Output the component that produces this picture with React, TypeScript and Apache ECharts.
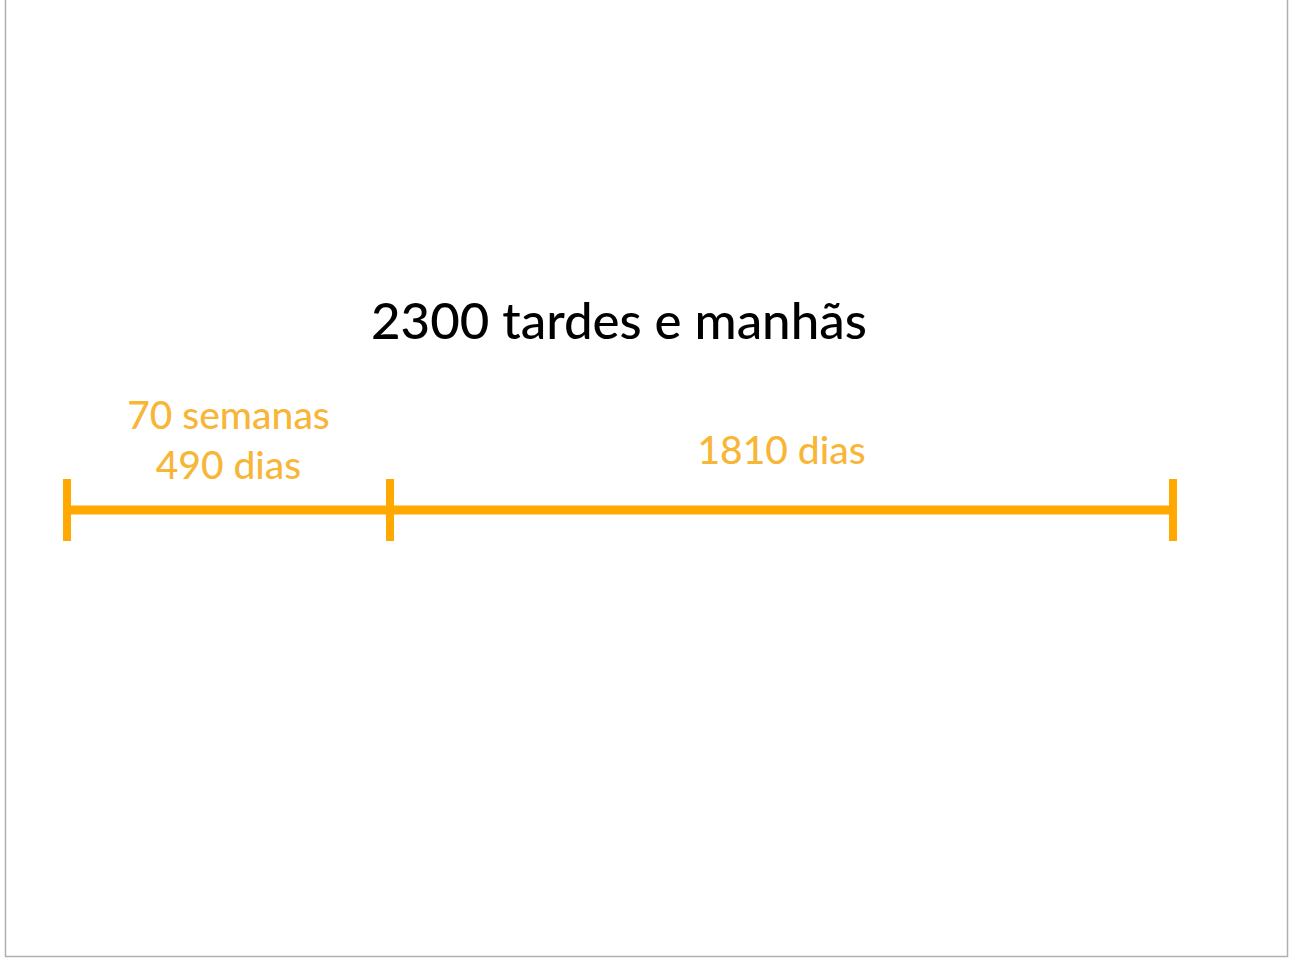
import React, { useEffect, useRef } from "react";
import * as echarts from "echarts";

const titleText = "2300 tardes e manhãs";
const segmentDays = [490, 1810];
const segmentLabels = ["70 semanas\n490 dias", "1810 dias"];
const labelDistances = [21, 36];

const ORANGE = "#FFA800";
const TEXT_ORANGE = "#F7A200";
const FONT = "Lato, 'Open Sans', sans-serif";

// pixel layout of each segment's own grid (left, right edge)
const gridSpans = [
  [67, 390],
  [390, 1173],
];

export default function App() {
  const ref = useRef<HTMLDivElement>(null);
  useEffect(() => {
    if (!ref.current) return;
    const chart = echarts.init(ref.current, undefined, { renderer: "svg" });
    const grids = gridSpans.map(([l, r]) => ({
      left: l,
      right: 1299 - r,
      top: 480,
      height: 60,
    }));
    const xAxes = segmentDays.map((d, i) => ({
      type: "value",
      gridIndex: i,
      min: 0,
      max: d,
      show: false,
    }));
    const yAxes = segmentDays.map((_, i) => ({
      type: "value",
      gridIndex: i,
      min: -1,
      max: 1,
      show: false,
    }));
    const series: any[] = [];
    segmentDays.forEach((d, i) => {
      series.push({
        type: "line",
        xAxisIndex: i,
        yAxisIndex: i,
        data: [
          [0, 0],
          [d, 0],
        ],
        lineStyle: { color: ORANGE, width: 9 },
        itemStyle: { color: ORANGE },
        symbol: "rect",
        symbolSize: [8, 62],
        silent: true,
        z: 2,
      });
      series.push({
        type: "scatter",
        xAxisIndex: i,
        yAxisIndex: i,
        data: [[d / 2, 0]],
        symbolSize: 0,
        silent: true,
        label: {
          show: true,
          position: "top",
          distance: labelDistances[i],
          formatter: segmentLabels[i],
          color: TEXT_ORANGE,
          fontFamily: FONT,
          fontSize: 39,
          fontWeight: 500,
          lineHeight: 50,
          align: "center",
        },
      });
    });
    chart.setOption({
      animation: false,
      backgroundColor: "#ffffff",
      title: {
        text: titleText,
        left: 366,
        top: 289,
        textStyle: {
          color: "#000000",
          fontFamily: FONT,
          fontSize: 51,
          fontWeight: 500,
        },
      },
      graphic: [
        {
          type: "rect",
          shape: { x: 5.5, y: -5, width: 1282, height: 961.5 },
          style: { fill: "none", stroke: "#b0b0b0", lineWidth: 1.5 },
          silent: true,
        },
      ],
      grid: grids,
      xAxis: xAxes,
      yAxis: yAxes,
      series,
    });
    return () => chart.dispose();
  }, []);
  return (
    <div
      ref={ref}
      style={{ position: "absolute", left: 0, top: 0, width: 1299, height: 958 }}
    />
  );
}
